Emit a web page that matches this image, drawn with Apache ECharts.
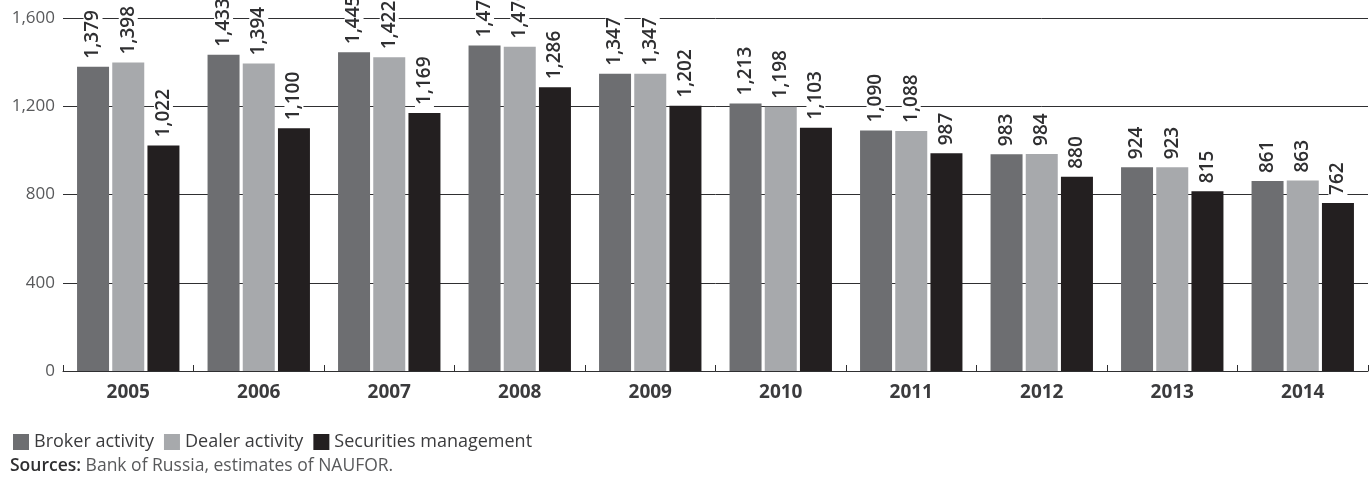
<!DOCTYPE html>
<html>
<head>
<meta charset="utf-8">
<script src="https://cdn.jsdelivr.net/npm/echarts@6/dist/echarts.min.js"></script>
<style>
  html, body { margin: 0; padding: 0; background: #fff; }
  #chart { width: 1372px; height: 480px; }
</style>
</head>
<body>
<div id="chart"></div>
<script>
const years = ['2005', '2006', '2007', '2008', '2009', '2010', '2011', '2012', '2013', '2014']
const broker = [1379, 1433, 1445, 1475, 1347, 1213, 1090, 983, 924, 861]
const dealer = [1398, 1394, 1422, 1470, 1347, 1198, 1088, 984, 923, 863]
const securities = [1022, 1100, 1169, 1286, 1202, 1103, 987, 880, 815, 762]
const seriesNames = ['Broker activity', 'Dealer activity', 'Securities management']
const colors = ['#6d6e71', '#a7a9ac', '#231f20']

const font = '"Open Sans", "Noto Sans", sans-serif'
const fmt = v => Number(v).toLocaleString('en-US')

const barLabel = {
    show: true,
    position: 'top',
    rotate: 90,
    align: 'left',
    verticalAlign: 'middle',
    distance: 5,
    fontFamily: font,
    fontSize: 19,
    fontWeight: 600,
    color: '#2f2f31',
    backgroundColor: '#fff',
    padding: [0, 3, 0, 3],
    formatter: p => fmt(p.value)
}

const makeSeries = (name, data, i) => ({
    type: 'bar',
    name: name,
    data: data,
    barWidth: 32,
    barGap: '10%',
    itemStyle: { color: colors[i] },
    label: barLabel
})

const chart = echarts.init(document.getElementById('chart'))
chart.setOption({
    animation: false,
    textStyle: { fontFamily: font },
    grid: { left: 63, right: 4, top: 18, bottom: 109 },
    legend: {
        left: 8,
        top: 428,
        itemWidth: 16,
        itemHeight: 16,
        itemGap: 10,
        icon: 'rect',
        textStyle: { fontFamily: font, fontSize: 18, color: '#3b3b3d' },
        data: seriesNames
    },
    graphic: [{
        type: 'text',
        left: 10,
        top: 457,
        style: {
            text: '{b|Sources:} Bank of Russia, estimates of NAUFOR.',
            rich: {
                b: { fontFamily: font, fontSize: 17.5, fontWeight: 600, fill: '#2f2f31' }
            },
            fontFamily: font,
            fontSize: 17.5,
            fill: '#58595b'
        }
    }],
    xAxis: {
        type: 'category',
        data: years,
        axisLine: { lineStyle: { color: '#2f2f31', width: 1 } },
        axisTick: { show: true, inside: true, length: 6, lineStyle: { color: '#2f2f31' } },
        axisLabel: { fontFamily: font, fontSize: 19, fontWeight: 'bold', color: '#3b3b3d', margin: 12 }
    },
    yAxis: {
        type: 'value',
        min: 0,
        max: 1600,
        interval: 400,
        axisLine: { show: false },
        axisTick: { show: false },
        axisLabel: { fontFamily: font, fontSize: 17, color: '#58595b', margin: 8, formatter: v => fmt(v) },
        splitLine: { lineStyle: { color: '#2f2f31', width: 1 } }
    },
    series: [
        makeSeries(seriesNames[0], broker, 0),
        makeSeries(seriesNames[1], dealer, 1),
        makeSeries(seriesNames[2], securities, 2)
    ]
})
</script>
</body>
</html>
